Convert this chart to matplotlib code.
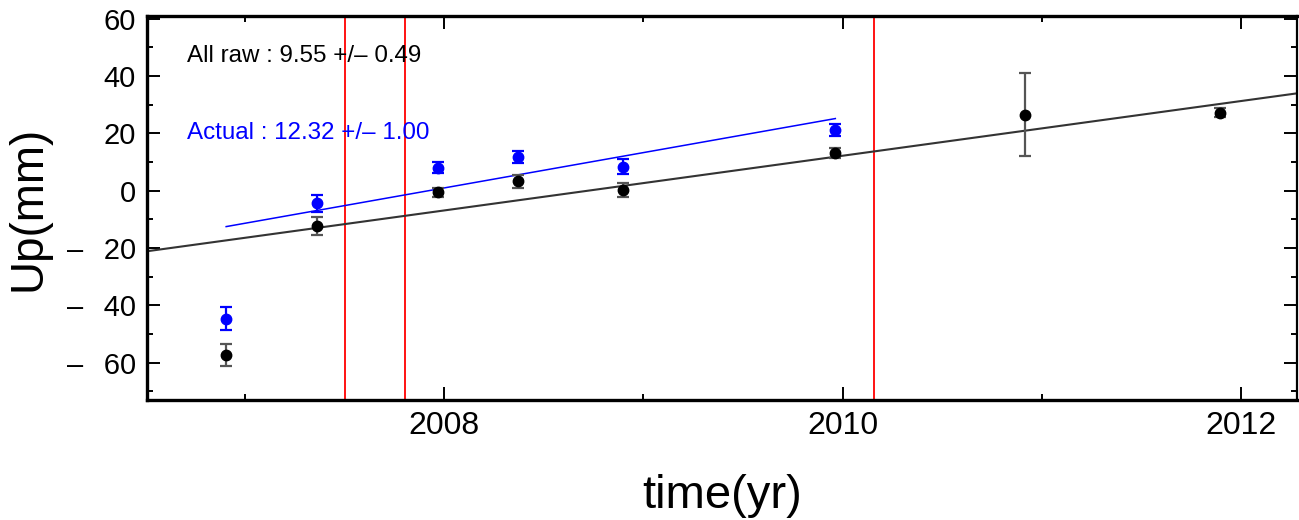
import numpy as np
import matplotlib
matplotlib.use("Agg")
import matplotlib.pyplot as plt
from matplotlib.ticker import MultipleLocator, FuncFormatter

plt.rcParams['font.family'] = ['Liberation Sans', 'DejaVu Sans']

# raw GPS epochs (black)
raw_t = [2006.904, 2007.361, 2007.971, 2008.37, 2008.897, 2009.963, 2010.917, 2011.892]
raw_up = [-57.3, -12.3, -0.6, 3.3, 0.35, 13.2, 26.6, 27.3]
raw_err = [3.7, 3.0, 1.6, 2.2, 2.5, 1.9, 14.6, 1.5]

# corrected epochs (blue)
act_t = [2006.904, 2007.361, 2007.971, 2008.37, 2008.897, 2009.963]
act_up = [-44.6, -4.4, 8.0, 11.7, 8.4, 21.2]
act_err = [3.9, 2.9, 1.9, 2.1, 2.6, 2.2]

# fitted trends (end points)
raw_fit_t = [2006.509, 2012.28]
raw_fit_y = [-21.1, 34.0]
act_fit_t = [2006.906, 2009.963]
act_fit_y = [-12.5, 25.2]

# events
events = [2007.503, 2007.804, 2010.159]

raw_label = 'All raw : 9.55 +/\u2013 0.49'
act_label = 'Actual : 12.32 +/\u2013 1.00'


def ylab(v, pos):
    # wide minus like the original plotting tool
    if v < 0:
        return '\u2013\u2002\u2009%d' % abs(v)
    return '%d' % v


fig = plt.figure(figsize=(12.99, 5.2), dpi=100)
ax = fig.add_axes([0.1132, 0.2308, 0.8853, 0.7385])

for t in events:
    ax.axvline(t, color='red', lw=1.3, zorder=1)

ax.plot(raw_fit_t, raw_fit_y, color='#333333', lw=1.5, zorder=2)
ax.plot(act_fit_t, act_fit_y, color='blue', lw=1.1, zorder=2)

ax.errorbar(raw_t, raw_up, yerr=raw_err, fmt='o', color='black', ecolor='#555555',
            ms=7.5, elinewidth=1.6, capsize=4, capthick=1.6, zorder=3)
ax.errorbar(act_t, act_up, yerr=act_err, fmt='o', color='blue', ecolor='blue',
            ms=7.5, elinewidth=1.6, capsize=4, capthick=1.6, zorder=3)

ax.text(0.035, 0.895, raw_label, transform=ax.transAxes, fontsize=17.4,
        color='black', va='center', ha='left')
ax.text(0.035, 0.694, act_label, transform=ax.transAxes, fontsize=17.4,
        color='blue', va='center', ha='left')

ax.set_xlim(2006.509, 2012.28)
ax.set_ylim(-73, 61)
ax.xaxis.set_major_locator(MultipleLocator(2))
ax.xaxis.set_minor_locator(MultipleLocator(1))
ax.yaxis.set_major_locator(MultipleLocator(20))
ax.yaxis.set_minor_locator(MultipleLocator(10))
ax.yaxis.set_major_formatter(FuncFormatter(ylab))

ax.tick_params(which='both', direction='in', top=True, right=True, width=1.4, color='black')
ax.tick_params(which='major', length=9.5)
ax.tick_params(which='minor', length=4.5)
ax.tick_params(axis='x', labelsize=23, pad=8)
ax.tick_params(axis='y', labelsize=21, pad=8)

for side in ['left', 'bottom', 'top']:
    ax.spines[side].set_linewidth(2.4)
ax.spines['right'].set_linewidth(1.6)

ax.set_xlabel('time(yr)', fontsize=34, labelpad=24)
ax.set_ylabel('Up(mm)', fontsize=33, labelpad=12)

fig.savefig('out.png', dpi=100)
